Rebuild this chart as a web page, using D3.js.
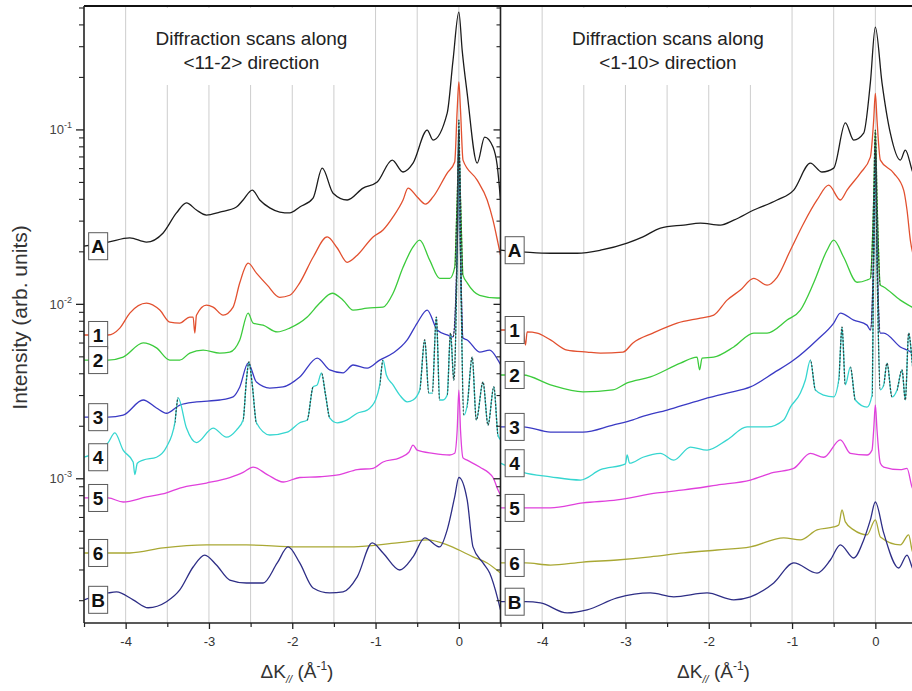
<!DOCTYPE html>
<html>
<head>
<meta charset="utf-8">
<script src="https://cdn.jsdelivr.net/npm/d3@7"></script>
<style>
  body { margin: 0; background: #fff; }
  svg { display: block; font-family: "Liberation Sans", Arial, Helvetica, sans-serif; }
</style>
</head>
<body>
<svg id="chart" width="912" height="691"></svg>
<script>
// ---- data: intensity (arb. units) versus ΔK// (Å⁻¹) ----
const seriesNames = ["A", "1", "2", "3", "4", "5", "6", "B"];
const seriesColors = ["#1c1c1c", "#e2502f", "#3ccb3c", "#3a3ac4", "#36d6d0", "#e040dc", "#a9a834", "#2e2e86"];
const xTickValues = [-4, -3, -2, -1, 0];
const xGridValues = [-4, -3.5, -3, -2.5, -2, -1.5, -1, -0.5, 0];
const yTickValues = [1e-1, 1e-2, 1e-3];
const yTickExponents = ["-1", "-2", "-3"];
const panelTitles = [
  ["Diffraction scans along", "<11-2> direction"],
  ["Diffraction scans along", "<1-10> direction"]
];

// <11-2> scans
const scan112_A = [[-4.50,0.0214],[-4.21,0.0226],[-3.95,0.0239],[-3.75,0.0226],[-3.55,0.0255],[-3.39,0.0332],[-3.27,0.0379],[-3.15,0.0345],[-3.03,0.0323],[-2.87,0.0336],[-2.67,0.0359],[-2.59,0.0394],[-2.48,0.0449],[-2.39,0.0394],[-2.27,0.0355],[-2.15,0.0336],[-2.03,0.0332],[-1.91,0.0359],[-1.75,0.0404],[-1.64,0.0600],[-1.51,0.0431],[-1.34,0.0394],[-1.15,0.0461],[-0.98,0.0499],[-0.80,0.0667],[-0.67,0.0570],[-0.55,0.0641],[-0.38,0.0991],[-0.31,0.0869],[-0.14,0.124],[-0.07,0.249],[0.00,0.470],[0.04,0.284],[0.10,0.161],[0.22,0.0641],[0.31,0.0904],[0.41,0.0793],[0.46,0.0624],[0.50,0.0394]];
const scan112_1 = [[-4.50,0.00663],[-4.21,0.00663],[-4.07,0.00726],[-3.95,0.00885],[-3.75,0.0101],[-3.59,0.00921],[-3.47,0.00786],[-3.35,0.00776],[-3.23,0.00840],[-3.19,0.00840],[-3.17,0.0068],[-3.15,0.0086],[-3.03,0.00983],[-2.95,0.00958],[-2.83,0.00862],[-2.71,0.00958],[-2.63,0.0132],[-2.53,0.0171],[-2.43,0.0150],[-2.30,0.0128],[-2.15,0.0109],[-2.03,0.0112],[-1.91,0.0132],[-1.75,0.0185],[-1.58,0.0242],[-1.46,0.0209],[-1.34,0.0173],[-1.22,0.0190],[-1.03,0.0242],[-0.91,0.0265],[-0.79,0.0315],[-0.67,0.0394],[-0.61,0.0461],[-0.50,0.0410],[-0.40,0.0373],[-0.31,0.0410],[-0.14,0.0562],[-0.05,0.0650],[-0.02,0.129],[0.00,0.187],[0.02,0.129],[0.05,0.0667],[0.22,0.0512],[0.34,0.0394],[0.41,0.0302],[0.47,0.0223],[0.50,0.0190]];
const scan112_2 = [[-4.50,0.00476],[-4.21,0.00476],[-4.03,0.00495],[-3.79,0.00597],[-3.63,0.00559],[-3.47,0.00476],[-3.35,0.00476],[-3.23,0.00522],[-3.07,0.00543],[-2.87,0.00522],[-2.75,0.00529],[-2.63,0.00621],[-2.53,0.00885],[-2.47,0.00776],[-2.35,0.00755],[-2.18,0.00690],[-2.03,0.00726],[-1.82,0.00840],[-1.67,0.0101],[-1.52,0.0115],[-1.39,0.0105],[-1.27,0.00921],[-1.10,0.00945],[-0.91,0.00958],[-0.79,0.0115],[-0.67,0.0162],[-0.55,0.0212],[-0.47,0.0232],[-0.35,0.0178],[-0.23,0.0140],[-0.11,0.0140],[-0.05,0.0162],[-0.02,0.0394],[0.00,0.0761],[0.02,0.0394],[0.05,0.0146],[0.10,0.0132],[0.25,0.0112],[0.46,0.0108],[0.50,0.0108]];
const scan112_3 = [[-4.50,0.00224],[-4.21,0.00224],[-4.03,0.00230],[-3.79,0.00281],[-3.63,0.00253],[-3.51,0.00236],[-3.35,0.00263],[-3.15,0.00274],[-2.87,0.00281],[-2.71,0.00293],[-2.63,0.00334],[-2.53,0.00457],[-2.43,0.00356],[-2.27,0.00329],[-2.11,0.00334],[-1.91,0.00381],[-1.70,0.00489],[-1.55,0.00418],[-1.39,0.00402],[-1.27,0.00446],[-1.10,0.00428],[-0.95,0.00476],[-0.79,0.00522],[-0.62,0.00621],[-0.50,0.00776],[-0.38,0.00921],[-0.26,0.00708],[-0.14,0.00663],[-0.07,0.00646],[-0.02,0.0203],[0.00,0.0991],[0.02,0.0203],[0.05,0.00637],[0.10,0.00621],[0.25,0.00529],[0.37,0.00543],[0.47,0.00476],[0.50,0.00450]];
const scan112_4 = [[-4.50,0.00132],[-4.21,0.00160],[-4.13,0.00182],[-4.03,0.00145],[-3.91,0.00124],[-3.89,0.00105],[-3.86,0.00122],[-3.79,0.00127],[-3.63,0.00132],[-3.51,0.00151],[-3.41,0.00208],[-3.37,0.00289],[-3.27,0.00194],[-3.15,0.00160],[-2.95,0.00194],[-2.79,0.00172],[-2.67,0.00189],[-2.59,0.00216],[-2.55,0.00366],[-2.52,0.00464],[-2.48,0.00343],[-2.43,0.00208],[-2.27,0.00177],[-2.06,0.00184],[-1.91,0.00208],[-1.82,0.00216],[-1.75,0.00334],[-1.70,0.00343],[-1.65,0.00402],[-1.60,0.00300],[-1.55,0.00222],[-1.46,0.00208],[-1.34,0.00216],[-1.22,0.00236],[-1.10,0.00246],[-1.00,0.00281],[-0.95,0.00343],[-0.91,0.00476],[-0.87,0.00391],[-0.79,0.00343],[-0.71,0.00300],[-0.62,0.00274],[-0.55,0.00281],[-0.47,0.00321],[-0.41,0.00621],[-0.36,0.00308],[-0.32,0.00308],[-0.27,0.00840],[-0.23,0.00281],[-0.19,0.00281],[-0.14,0.00300],[-0.10,0.00680],[-0.06,0.00366],[-0.02,0.0203],[0.00,0.113],[0.02,0.0203],[0.06,0.00230],[0.10,0.00263],[0.16,0.00495],[0.21,0.00216],[0.29,0.00356],[0.35,0.00202],[0.42,0.00334],[0.47,0.00177],[0.50,0.00166]];
const scan112_5 = [[-4.50,0.000771],[-4.21,0.000771],[-4.03,0.000731],[-3.75,0.000782],[-3.51,0.000824],[-3.35,0.000879],[-3.03,0.000939],[-2.75,0.00101],[-2.59,0.00108],[-2.47,0.00116],[-2.30,0.00105],[-2.11,0.000952],[-1.91,0.00101],[-1.67,0.00102],[-1.43,0.00105],[-1.22,0.00112],[-1.03,0.00114],[-0.91,0.00124],[-0.71,0.00131],[-0.60,0.00141],[-0.55,0.00155],[-0.50,0.00145],[-0.31,0.00139],[-0.11,0.00136],[-0.05,0.00139],[-0.02,0.00189],[0.00,0.00320],[0.02,0.00189],[0.05,0.00131],[0.10,0.00127],[0.25,0.00116],[0.41,0.00101],[0.47,0.000857],[0.50,0.000802]];
const scan112_6 = [[-4.50,0.000373],[-3.95,0.000373],[-3.55,0.000399],[-3.03,0.000415],[-2.55,0.000415],[-1.94,0.000404],[-1.34,0.000404],[-0.74,0.000426],[-0.38,0.000443],[-0.14,0.000415],[0.05,0.000378],[0.17,0.000354],[0.34,0.000327],[0.50,0.000286]];
const scan112_B = [[-4.50,0.000201],[-4.21,0.000220],[-4.11,0.000223],[-3.91,0.000201],[-3.73,0.000181],[-3.51,0.000196],[-3.35,0.000229],[-3.19,0.000310],[-3.05,0.000363],[-2.91,0.000318],[-2.75,0.000261],[-2.55,0.000251],[-2.35,0.000251],[-2.18,0.000327],[-2.05,0.000404],[-1.91,0.000327],[-1.75,0.000235],[-1.55,0.000220],[-1.39,0.000223],[-1.22,0.000272],[-1.04,0.000426],[-0.91,0.000373],[-0.71,0.000298],[-0.55,0.000354],[-0.41,0.000455],[-0.23,0.000404],[-0.14,0.000506],[-0.05,0.000782],[0.00,0.00101],[0.10,0.000751],[0.17,0.000404],[0.29,0.000327],[0.37,0.000286],[0.47,0.000201],[0.50,0.000176]];

// <1-10> scans
const scan110_A = [[-4.50,0.0203],[-4.20,0.0198],[-3.90,0.0195],[-3.58,0.0195],[-3.30,0.0203],[-2.98,0.0223],[-2.79,0.0242],[-2.58,0.0272],[-2.30,0.0283],[-2.10,0.0290],[-1.86,0.0283],[-1.70,0.0302],[-1.46,0.0345],[-1.18,0.0394],[-0.98,0.0449],[-0.78,0.0641],[-0.64,0.0570],[-0.50,0.0600],[-0.36,0.109],[-0.26,0.0869],[-0.14,0.0952],[-0.06,0.185],[0.00,0.386],[0.08,0.185],[0.18,0.0952],[0.30,0.0667],[0.36,0.0761],[0.44,0.0585],[0.50,0.0479]];
const scan110_1 = [[-4.50,0.00708],[-4.23,0.00708],[-4.20,0.00581],[-4.18,0.00690],[-4.06,0.00680],[-3.90,0.00621],[-3.70,0.00543],[-3.46,0.00529],[-3.30,0.00522],[-3.03,0.00529],[-2.91,0.00597],[-2.67,0.00680],[-2.38,0.00776],[-2.10,0.00829],[-1.94,0.00862],[-1.78,0.0105],[-1.62,0.0120],[-1.46,0.0140],[-1.30,0.0128],[-1.18,0.0142],[-1.02,0.0203],[-0.86,0.0290],[-0.70,0.0394],[-0.56,0.0479],[-0.42,0.0394],[-0.34,0.0449],[-0.18,0.0562],[-0.06,0.0694],[-0.02,0.113],[0.00,0.161],[0.02,0.113],[0.06,0.0667],[0.22,0.0562],[0.34,0.0449],[0.38,0.0345],[0.42,0.0232],[0.50,0.0167]];
const scan110_2 = [[-4.50,0.00391],[-4.23,0.00391],[-3.90,0.00343],[-3.51,0.00313],[-3.15,0.00321],[-2.98,0.00352],[-2.70,0.00381],[-2.34,0.00457],[-2.14,0.00495],[-2.11,0.00418],[-2.08,0.00489],[-1.94,0.00495],[-1.70,0.00566],[-1.46,0.00680],[-1.30,0.00680],[-1.06,0.00807],[-0.90,0.00921],[-0.74,0.0132],[-0.58,0.0203],[-0.50,0.0232],[-0.38,0.0185],[-0.22,0.0133],[-0.10,0.0137],[-0.06,0.0140],[-0.02,0.0394],[0.00,0.0991],[0.02,0.0394],[0.06,0.0128],[0.10,0.0125],[0.30,0.0105],[0.44,0.00958],[0.50,0.00921]];
const scan110_3 = [[-4.50,0.00197],[-4.23,0.00197],[-3.90,0.00184],[-3.51,0.00184],[-3.15,0.00202],[-2.91,0.00216],[-2.82,0.00224],[-2.50,0.00246],[-2.10,0.00281],[-1.78,0.00308],[-1.50,0.00334],[-1.22,0.00402],[-0.98,0.00476],[-0.70,0.00621],[-0.50,0.00776],[-0.42,0.00885],[-0.26,0.00807],[-0.10,0.00755],[-0.06,0.00708],[-0.02,0.0203],[0.00,0.0761],[0.02,0.0203],[0.06,0.00680],[0.10,0.00680],[0.30,0.00566],[0.44,0.00522],[0.50,0.00476]];
const scan110_4 = [[-4.50,0.00122],[-4.23,0.00108],[-3.90,0.00102],[-3.54,0.000977],[-3.30,0.00112],[-3.00,0.00121],[-2.98,0.00136],[-2.95,0.00122],[-2.79,0.00132],[-2.58,0.00139],[-2.42,0.00127],[-2.22,0.00151],[-2.02,0.00145],[-1.78,0.00166],[-1.54,0.00197],[-1.30,0.00197],[-1.10,0.00216],[-1.02,0.00256],[-0.90,0.00308],[-0.84,0.00366],[-0.78,0.00476],[-0.72,0.00321],[-0.62,0.00300],[-0.50,0.00293],[-0.44,0.00366],[-0.40,0.00736],[-0.36,0.00343],[-0.30,0.00434],[-0.24,0.00281],[-0.10,0.00256],[-0.04,0.00300],[-0.02,0.0178],[0.00,0.0869],[0.02,0.0178],[0.06,0.00321],[0.10,0.00343],[0.14,0.00457],[0.20,0.00293],[0.26,0.00321],[0.32,0.00418],[0.36,0.00281],[0.40,0.00680],[0.44,0.00476],[0.48,0.00281]];
const scan110_5 = [[-4.50,0.000676],[-4.23,0.000676],[-3.90,0.000676],[-3.51,0.000722],[-3.10,0.000751],[-2.62,0.000824],[-2.30,0.000857],[-1.90,0.000914],[-1.50,0.000977],[-1.22,0.00108],[-0.98,0.00114],[-0.78,0.00139],[-0.62,0.00132],[-0.42,0.00166],[-0.30,0.00139],[-0.10,0.00136],[-0.04,0.00145],[-0.02,0.00189],[0.00,0.00263],[0.02,0.00189],[0.06,0.00122],[0.10,0.00116],[0.30,0.00112],[0.38,0.00114],[0.44,0.000891],[0.50,0.000802]];
const scan110_6 = [[-4.50,0.000327],[-4.20,0.000327],[-3.90,0.000318],[-3.51,0.000331],[-3.10,0.000340],[-2.70,0.000354],[-2.30,0.000373],[-1.90,0.000388],[-1.50,0.000404],[-1.10,0.000455],[-0.90,0.000443],[-0.70,0.000506],[-0.50,0.000526],[-0.44,0.000540],[-0.40,0.000658],[-0.36,0.000562],[-0.26,0.000506],[-0.10,0.000474],[0.00,0.000577],[0.06,0.000461],[0.30,0.000415],[0.40,0.000474],[0.44,0.000388],[0.50,0.000340]];
const scan110_B = [[-4.50,0.000196],[-4.20,0.000196],[-4.02,0.000193],[-3.70,0.000169],[-3.46,0.000176],[-3.10,0.000206],[-2.70,0.000220],[-2.42,0.000209],[-2.02,0.000220],[-1.70,0.000201],[-1.50,0.000209],[-1.22,0.000251],[-0.98,0.000327],[-0.70,0.000286],[-0.54,0.000340],[-0.42,0.000415],[-0.26,0.000349],[-0.14,0.000443],[-0.06,0.000577],[0.00,0.000731],[0.10,0.000486],[0.28,0.000306],[0.38,0.000363],[0.44,0.000310],[0.50,0.000261]];

// ---- layout ----
const plotTop = 6, plotBottom = 623;
const xLeft0 = 84, xMid = 500.5, xRight1 = 917;
const svg = d3.select("#chart");

const y = d3.scaleLog().domain([1.48e-4, 0.51]).range([plotBottom, plotTop]);

const panels = [
  { x: d3.scaleLinear().domain([-4.5, 0.5]).range([xLeft0, xMid]),
    series: [scan112_A, scan112_1, scan112_2, scan112_3, scan112_4, scan112_5, scan112_6, scan112_B],
    title: panelTitles[0] },
  { x: d3.scaleLinear().domain([-4.5, 0.5]).range([xMid, xRight1]),
    series: [scan110_A, scan110_1, scan110_2, scan110_3, scan110_4, scan110_5, scan110_6, scan110_B],
    title: panelTitles[1] }
];

// scans whose steep flanks are overdrawn with a dark dotted trace
const dottedFlankSeries = [2, 3, 4];

panels.forEach((p, pi) => {
  const [r0, r1] = p.x.range();
  const clipId = "clip" + pi;
  svg.append("clipPath").attr("id", clipId)
    .append("rect").attr("x", r0).attr("y", plotTop).attr("width", r1 - r0).attr("height", plotBottom - plotTop);

  const g = svg.append("g");

  // vertical grid
  g.selectAll("line.grid").data(xGridValues).join("line")
    .attr("class", "grid")
    .attr("x1", d => p.x(d)).attr("x2", d => p.x(d))
    .attr("y1", plotTop).attr("y2", plotBottom)
    .attr("stroke", "#cdcdcd").attr("stroke-width", 1);

  // panel heading with a white backing
  const tx = p.x(-2.49);
  const tg = g.append("g");
  const t = tg.append("text").attr("text-anchor", "middle").attr("fill", "#222").attr("font-size", 19);
  t.append("tspan").attr("x", tx).attr("y", 45).text(p.title[0]);
  t.append("tspan").attr("x", tx).attr("y", 69).text(p.title[1]);
  const bb = t.node().getBBox();
  tg.insert("rect", "text").attr("x", bb.x - 6).attr("y", plotTop + 2).attr("width", bb.width + 12)
    .attr("height", bb.y + bb.height + 10 - plotTop).attr("fill", "#fff");

  // scans
  const line = d3.line().x(d => p.x(d[0])).y(d => y(d[1])).curve(d3.curveMonotoneX);
  const cg = g.append("g").attr("clip-path", `url(#${clipId})`);
  p.series.forEach((s, i) => {
    cg.append("path").datum(s).attr("d", line)
      .attr("fill", "none").attr("stroke", seriesColors[i]).attr("stroke-width", 1.3)
      .attr("stroke-linejoin", "round");
  });

  // dark dotted overdraw on the steep flanks of sharp peaks
  p.series.forEach((s, i) => {
    if (!dottedFlankSeries.includes(i)) return;
    const steep = [];
    for (let j = 1; j < s.length; j++) {
      const dx = p.x(s[j][0]) - p.x(s[j - 1][0]);
      const dy = Math.abs(y(s[j][1]) - y(s[j - 1][1]));
      if (dy > 15 && dy / dx > 4) steep.push([p.x(s[j - 1][0]), p.x(s[j][0])]);
    }
    if (!steep.length) return;
    const fid = `flank${pi}_${i}`;
    const cp = svg.append("clipPath").attr("id", fid);
    steep.forEach(([a, b]) => cp.append("rect").attr("x", a).attr("y", plotTop)
      .attr("width", b - a).attr("height", plotBottom - plotTop));
    cg.append("g").attr("clip-path", `url(#${fid})`)
      .append("path").datum(s).attr("d", line)
      .attr("fill", "none").attr("stroke", "#2b2b2b").attr("stroke-width", 1.3)
      .attr("stroke-dasharray", "2,1.5").attr("opacity", 0.85);
  });

  // curve labels in boxes
  const lx = p.x(-4.33);
  p.series.forEach((s, i) => {
    const ly = y(s[0][1]);
    g.append("rect").attr("x", lx - 9.5).attr("y", ly - 13.5).attr("width", 19).attr("height", 27)
      .attr("fill", "#fff").attr("stroke", "#5a5a5a").attr("stroke-width", 1);
    g.append("text").attr("x", lx).attr("y", ly + 7).attr("text-anchor", "middle")
      .attr("font-size", 19).attr("font-weight", "bold").attr("fill", "#111").text(seriesNames[i]);
  });

  // bottom axis: major and minor ticks
  const axMajor = d3.axisBottom(p.x).tickValues(xTickValues).tickSize(6).tickPadding(8).tickFormat(d3.format("d"));
  const axMinor = d3.axisBottom(p.x).tickValues([-4.5, -3.5, -2.5, -1.5, -0.5]).tickSize(4).tickFormat("");
  const ga = svg.append("g").attr("transform", `translate(0,${plotBottom})`).call(axMajor);
  ga.select(".domain").remove();
  ga.selectAll("text").attr("font-size", 13).attr("fill", "#333").attr("font-family", "Liberation Sans, Arial, sans-serif")
    .text(d => d < 0 ? "-" + Math.abs(d) : d);
  ga.selectAll("line").attr("stroke", "#222").attr("stroke-width", 1.3);
  const gm = svg.append("g").attr("transform", `translate(0,${plotBottom})`).call(axMinor);
  gm.select(".domain").remove();
  gm.selectAll("line").attr("stroke", "#222").attr("stroke-width", 1.2);

  // x-axis title
  const xt = svg.append("text").attr("x", r0 + 213).attr("y", 678).attr("text-anchor", "middle")
    .attr("font-size", 19).attr("fill", "#333");
  xt.append("tspan").text("ΔK");
  xt.append("tspan").attr("font-size", 11).attr("font-style", "italic").attr("dy", 5).text("//");
  xt.append("tspan").attr("dy", -5).text(" (Å");
  xt.append("tspan").attr("font-size", 12).attr("dy", -8).text("-1");
  xt.append("tspan").attr("dy", 8).text(")");
});

// log-scale y axis ticks
const minorTicks = [];
[1e-4, 1e-3, 1e-2, 1e-1].forEach(dec => {
  for (let m = 2; m <= 9; m++) {
    const v = m * dec;
    if (v >= y.domain()[0] && v <= y.domain()[1]) minorTicks.push(v);
  }
});

function drawYTicks(xPos, major, minor) {
  const gM = svg.append("g").attr("transform", `translate(${xPos},0)`)
    .call(d3.axisLeft(y).tickValues(yTickValues).tickSize(major).tickFormat(""));
  gM.select(".domain").remove();
  gM.selectAll("line").attr("stroke", "#222").attr("stroke-width", 1.3);
  const gm = svg.append("g").attr("transform", `translate(${xPos},0)`)
    .call(d3.axisLeft(y).tickValues(minorTicks).tickSize(minor).tickFormat(""));
  gm.select(".domain").remove();
  gm.selectAll("line").attr("stroke", "#222").attr("stroke-width", 1.1);
}
drawYTicks(xLeft0, 8, 5);
drawYTicks(xMid, 7, 4);

// tick labels 10^n
yTickValues.forEach((v, i) => {
  const t = svg.append("text").attr("x", 72).attr("y", y(v) + 5).attr("text-anchor", "end")
    .attr("fill", "#444").attr("font-size", 13);
  t.append("tspan").text("10");
  t.append("tspan").attr("font-size", 9).attr("dy", -6).text(yTickExponents[i]);
});

// frame lines
svg.append("line").attr("x1", xLeft0).attr("x2", 912).attr("y1", plotTop).attr("y2", plotTop)
  .attr("stroke", "#111").attr("stroke-width", 2.2);
svg.append("line").attr("x1", xLeft0).attr("x2", 912).attr("y1", plotBottom).attr("y2", plotBottom)
  .attr("stroke", "#222").attr("stroke-width", 1.6);
svg.append("line").attr("x1", xLeft0).attr("x2", xLeft0).attr("y1", plotTop).attr("y2", plotBottom)
  .attr("stroke", "#222").attr("stroke-width", 1.6);
svg.append("line").attr("x1", xMid).attr("x2", xMid).attr("y1", plotTop).attr("y2", plotBottom)
  .attr("stroke", "#222").attr("stroke-width", 1.6);

// y-axis title
svg.append("text").attr("transform", `translate(27,${(plotTop + plotBottom) / 2 + 3}) rotate(-90)`)
  .attr("text-anchor", "middle").attr("font-size", 21).attr("fill", "#333")
  .text("Intensity (arb. units)");
</script>
</body>
</html>
